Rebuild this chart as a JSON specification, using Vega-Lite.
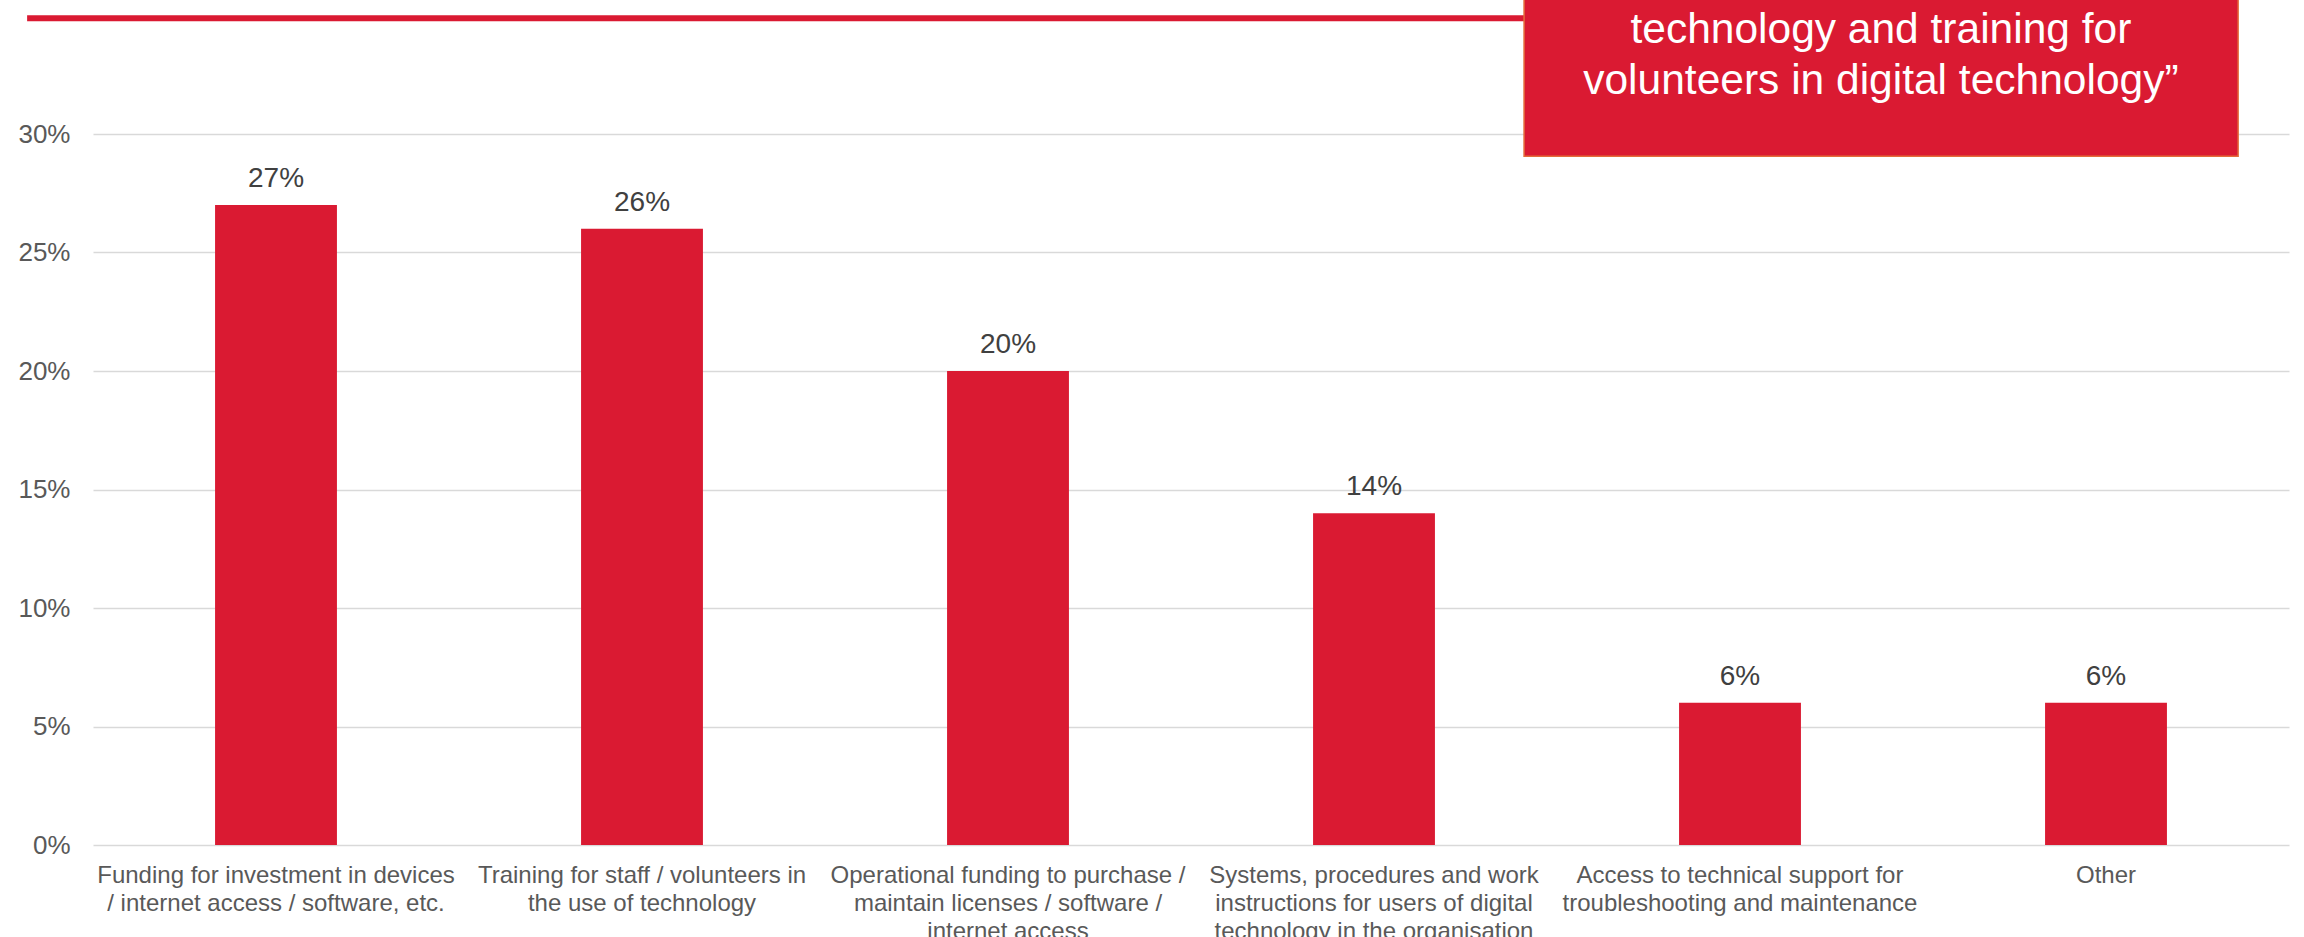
{
  "$schema": "https://vega.github.io/schema/vega-lite/v6.json",
  "width": 2196,
  "height": 711,
  "autosize": "none",
  "padding": {"left": 93, "top": 134, "right": 15, "bottom": 92},
  "background": "white",
  "config": {"view": {"stroke": null}, "font": "Liberation Sans"},
  "datasets": {
    "bars": [
      {"category": "Funding for investment in devices\n/ internet access / software, etc.", "share": 0.27},
      {"category": "Training for staff / volunteers in\nthe use of technology", "share": 0.26},
      {"category": "Operational funding to purchase /\nmaintain licenses / software /\ninternet access", "share": 0.20},
      {"category": "Systems, procedures and work\ninstructions for users of digital\ntechnology in the organisation", "share": 0.14},
      {"category": "Access to technical support for\ntroubleshooting and maintenance", "share": 0.06},
      {"category": "Other", "share": 0.06}
    ],
    "note": [
      {"note": "technology and training for\nvolunteers in digital technology”"}
    ]
  },
  "layer": [
    {
      "data": {"name": "bars"},
      "encoding": {
        "x": {
          "field": "category", "type": "nominal", "sort": null,
          "scale": {"paddingInner": 0.667, "paddingOuter": 0.3335},
          "axis": {
            "title": null, "labelAngle": 0, "domain": false, "ticks": false, "tickSize": 0,
            "labelPadding": 18, "labelFontSize": 24, "labelColor": "#595959",
            "labelExpr": "split(datum.label, '\\n')", "labelLineHeight": 28,
            "labelLimit": 0, "labelOverlap": false
          }
        },
        "y": {
          "field": "share", "type": "quantitative",
          "scale": {"domain": [0, 0.3], "nice": false},
          "axis": {
            "title": null, "format": ".0%", "values": [0, 0.05, 0.1, 0.15, 0.2, 0.25, 0.3],
            "domain": false, "ticks": false, "tickSize": 0, "labelPadding": 23,
            "labelFontSize": 26, "labelColor": "#595959",
            "gridColor": "#d9d9d9", "gridWidth": 1.5
          }
        }
      },
      "layer": [
        {"mark": {"type": "bar", "color": "#DA1A32"}},
        {
          "mark": {"type": "text", "baseline": "alphabetic", "dy": -18, "fontSize": 28, "color": "#404040"},
          "encoding": {"text": {"field": "share", "format": ".0%"}}
        }
      ]
    },
    {
      "data": {"name": "note"},
      "layer": [
        {
          "mark": {"type": "rule", "color": "#DA1A32", "strokeWidth": 6},
          "encoding": {
            "x": {"datum": -0.18, "type": "quantitative", "scale": {"domain": [0, 6], "nice": false, "zero": false}, "axis": null},
            "x2": {"datum": 3.91},
            "y": {"datum": 0.3488, "type": "quantitative", "scale": {"domain": [0, 0.3], "nice": false, "zero": false}, "axis": null}
          }
        },
        {
          "mark": {"type": "rect", "color": "#DA1A32", "stroke": "#E46C3A", "strokeWidth": 1.5},
          "encoding": {
            "x": {"datum": 3.91, "type": "quantitative"},
            "x2": {"datum": 5.861},
            "y": {"datum": 0.37, "type": "quantitative"},
            "y2": {"datum": 0.2906}
          }
        },
        {
          "mark": {"type": "text", "color": "white", "fontSize": 42.5, "lineHeight": 51, "lineBreak": "\n", "baseline": "alphabetic", "align": "center"},
          "encoding": {
            "text": {"field": "note"},
            "x": {"datum": 4.885, "type": "quantitative"},
            "y": {"datum": 0.3383, "type": "quantitative"}
          }
        }
      ]
    }
  ],
  "resolve": {"scale": {"x": "independent", "y": "independent"}}
}
